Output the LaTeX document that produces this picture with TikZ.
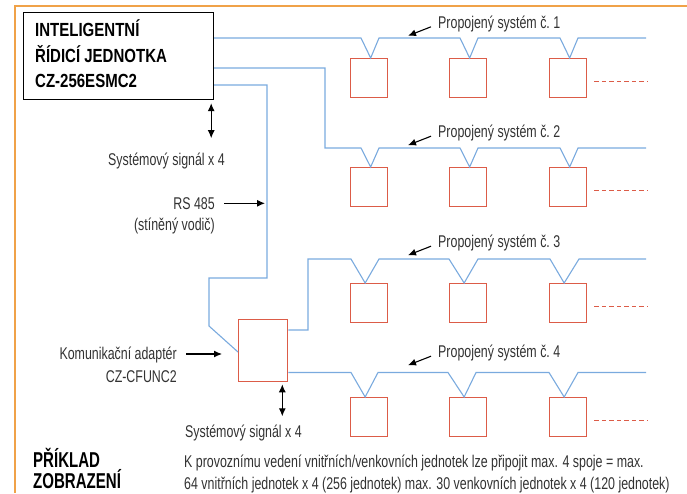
\documentclass[tikz,border=0pt]{standalone}
\usepackage{fontspec}
\setmainfont{Liberation Sans}[FakeStretch=0.73]
\newfontfamily\titlecond{Liberation Sans}[FakeStretch=0.79]
\newfontfamily\headcond{Liberation Sans}[FakeStretch=0.70]
\usetikzlibrary{arrows.meta,calc}
\definecolor{busblue}{RGB}{122,170,222}
\definecolor{unitred}{RGB}{220,92,72}
\definecolor{frameorange}{RGB}{240,162,72}
\definecolor{txtgray}{RGB}{50,50,50}
\tikzset{
  bus/.style={draw=busblue, line width=1.1pt, line join=miter},
  unitbox/.style={draw=unitred, line width=1.3pt, minimum width=37pt, minimum height=39pt, inner sep=0pt, anchor=north west},
  lbl/.style={font=\fontsize{17}{20}\selectfont, text=txtgray, inner sep=0pt},
  ttl/.style={font=\titlecond\bfseries\fontsize{19}{22}\selectfont, text=black, inner sep=0pt, anchor=base west},
  ptr/.style={-{Latex[length=8pt,width=7pt]}, line width=1.1pt, black},
  dblarrow/.style={{Latex[length=8pt,width=7pt]}-{Latex[length=8pt,width=7pt]}, line width=1.1pt, black},
  dashline/.style={draw=unitred, line width=1.1pt, dash pattern=on 4.5pt off 3pt}
}
\begin{document}
\begin{tikzpicture}[x=1pt,y=-1pt]
\useasboundingbox (0,0) rectangle (687,493);
% frame
\draw[frameorange, line width=1.5pt] (15,493) -- (15,6) -- (687,6);
% main unit
\node[draw=black, line width=1.2pt, minimum width=190pt, minimum height=87pt, inner sep=0pt, anchor=north west] (main) at (23,12) {};
\node[ttl] (t1) at (35,36.5) {INTELIGENTNÍ};
\node[ttl] (t2) at (35,62) {ŘÍDICÍ JEDNOTKA};
\node[ttl] (t3) at (35,87.5) {CZ-256ESMC2};
% adapter
\node[draw=unitred, line width=1.3pt, minimum width=49pt, minimum height=62pt, inner sep=0pt, anchor=north west] (ad) at (238,319) {};
% units
\foreach \s/\ty in {1/58,2/167,3/283,4/397}{
  \node[unitbox] (u\s1) at (350,\ty) {};
  \node[unitbox] (u\s2) at (449,\ty) {};
  \node[unitbox] (u\s3) at (549,\ty) {};
  \draw[dashline] ([xshift=7pt,yshift=-3pt]u\s3.east) -- ++(53,0);
}
% bus 1
\draw[bus] ($(main.north east)+(0,26)$) -- (361,38) -- ([xshift=1.5pt]u11.north) -- (379,38)
  -- (460,38) -- ([xshift=1.5pt]u12.north) -- (478,38)
  -- (560,38) -- ([xshift=1.5pt]u13.north) -- (578,38) -- (646,38);
% bus 2
\draw[bus] ($(main.north east)+(0,56)$) -- (325,68) -- (325,148) -- (361,148) -- ([xshift=1.5pt]u21.north) -- (379,148)
  -- (460,148) -- ([xshift=1.5pt]u22.north) -- (478,148)
  -- (560,148) -- ([xshift=1.5pt]u23.north) -- (578,148) -- (646,148);
% RS485 to adapter
\draw[bus] ($(main.north east)+(0,73)$) -- (267,85) -- (267,278) -- (209,278) -- (209,326) -- ($(ad.north west)+(0,33)$);
% bus 3
\draw[bus] ($(ad.north east)+(0,11)$) -- (308,330) -- (308,259) -- (351,259) -- ([xshift=-4pt]u31.north) -- (379,259)
  -- (449,259) -- ([xshift=-4pt]u32.north) -- (478,259)
  -- (550,259) -- ([xshift=-4pt]u33.north) -- (579,259) -- (646,259);
% bus 4
\draw[bus] ($(ad.north east)+(0,53.5)$) -- (351,372.5) -- ([xshift=-4pt]u41.north) -- (378,372.5)
  -- (448,372.5) -- ([xshift=-4pt]u42.north) -- (476,372.5)
  -- (549,372.5) -- ([xshift=-4pt]u43.north) -- (578,372.5) -- (646,372.5);
% labels of systems
\foreach \s/\by in {1/28.3,2/137.7,3/247.7,4/357.7}{
  \node[lbl, anchor=base west] (p\s) at (438,\by) {Propojený systém č.~\s};
  \draw[ptr] ([xshift=-7pt,yshift=1.5pt]p\s.base west) -- ++(-23,9);
}
% system signal arrows
\draw[dblarrow] ([xshift=-3pt,yshift=-3pt]main.south east) -- ++(0,35);
\node[lbl, anchor=base west] (sig1) at (108,165.7) {Systémový signál x 4};
\draw[dblarrow] ([xshift=-6pt,yshift=-2pt]ad.south east) -- ++(0,32);
\node[lbl, anchor=base west] (sig2) at (185,437.3) {Systémový signál x 4};
% RS 485
\node[lbl, anchor=base east] (rs) at (215,209.3) {RS 485};
\node[lbl, anchor=base east] (rs2) at (215,230.7) {(stíněný vodič)};
\draw[ptr] ([xshift=9pt,yshift=6pt]rs.base east) -- ++(41,0);
% adapter labels
\node[lbl, anchor=base east] (ka) at (177,359.5) {Komunikační adaptér};
\node[lbl, anchor=base east] (ka2) at (177,382) {CZ-CFUNC2};
\draw[ptr] ([xshift=9pt,yshift=5.5pt]ka.base east) -- ++(36,0);
% bottom
\node[font=\headcond\bfseries\fontsize{21.5}{24}\selectfont, inner sep=0pt, anchor=base west] (h1) at (33,467) {PŘÍKLAD};
\node[font=\headcond\bfseries\fontsize{21.5}{24}\selectfont, inner sep=0pt, anchor=base west] (h2) at (33,488) {ZOBRAZENÍ};
\node[lbl, anchor=base west] (n1) at (184,467.3) {K provoznímu vedení vnitřních/venkovních jednotek lze připojit max. 4 spoje = max.};
\node[lbl, anchor=base west] (n2) at (184,489) {64 vnitřních jednotek x 4 (256 jednotek) max. 30 venkovních jednotek x 4 (120 jednotek)};
\end{tikzpicture}
\end{document}
